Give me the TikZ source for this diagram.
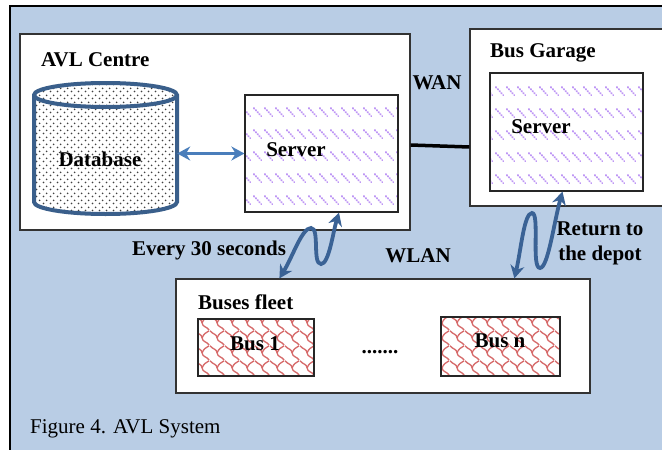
\documentclass[tikz,border=0pt]{standalone}
\usepackage{fontspec}
\setmainfont{Liberation Serif}
\usepackage{tikz}
\usetikzlibrary{arrows.meta,patterns.meta}

\definecolor{bgblue}{HTML}{B9CDE5}
\definecolor{zapblue}{HTML}{3A6295}
\definecolor{linkblue}{HTML}{4A7EBB}
\definecolor{dbline}{HTML}{3A5F8B}
\definecolor{srvviolet}{HTML}{BE96F5}
\definecolor{busred}{HTML}{D66A6A}

\tikzdeclarepattern{name=srvdash, type=uncolored,
  bottom left={(0pt,0pt)}, top right={(11pt,21.7pt)}, tile size={(11pt,21.7pt)},
  code={\draw[line width=2.1pt, line cap=round, dash pattern=on 0.5pt off 2.3pt] (1pt,15pt) -- (9pt,7pt);}}
\tikzdeclarepattern{name=dbdots, type=uncolored,
  bottom left={(0pt,0pt)}, top right={(7pt,7pt)}, tile size={(7pt,7pt)},
  code={\fill (1.75pt,1.75pt) circle (1.05pt); \fill (5.25pt,5.25pt) circle (1.05pt);}}
\tikzdeclarepattern{name=shingle, type=uncolored,
  bottom left={(0pt,0pt)}, top right={(15pt,15pt)}, tile size={(15pt,15pt)},
  code={\draw[line width=1.4pt] (0pt,15pt) .. controls (3pt,11pt) and (7pt,12pt) .. (7.5pt,7.5pt)
          .. controls (8pt,3pt) and (12pt,4pt) .. (15pt,0pt);
        \draw[line width=1.4pt] (7.5pt,7.5pt) .. controls (9pt,12pt) and (12pt,13pt) .. (15pt,15pt);}}

\tikzset{
  txt/.style={font=\fontsize{21}{25}\selectfont\bfseries, inner sep=0pt},
  panel/.style={draw=black!80, fill=white, line width=1.2pt},
  server/.style={draw=black!85, line width=1.2pt, pattern={srvdash}, pattern color=srvviolet,
    minimum width=153pt, minimum height=117pt},
  busbox/.style={draw=black!85, line width=1.2pt, pattern={shingle}, pattern color=busred},
  zap/.style={draw=zapblue, line width=3.8pt, <->},
}

\begin{document}
\begin{tikzpicture}[x=1pt, y=-1pt, >={Stealth[length=13pt,width=14pt]}]
\useasboundingbox (0,0) rectangle (662,450);
\fill[white] (0,0) rectangle (662,450);
\draw[fill=bgblue, line width=1.2pt] (10,6) rectangle (680,470);

\node[panel, minimum width=390pt, minimum height=196pt] (avl) at (215,132) {};
\node[panel, minimum width=210pt, minimum height=177pt] (garage) at (575,117.5) {};
\node[panel, minimum width=414pt, minimum height=114pt] (fleet) at (383,336) {};

% database drum
\node[minimum width=143pt, minimum height=131pt, inner sep=0pt] (db) at (105.5,148.5) {};
\filldraw[draw=dbline, line width=4pt, pattern={dbdots}, pattern color=black!75]
  (34,95) -- (34,202) arc[start angle=180, end angle=0, x radius=71.5, y radius=12]
  -- (177,95) arc[start angle=0, end angle=-180, x radius=71.5, y radius=12] -- cycle;
\draw[dbline, line width=4pt] (34,95) arc[start angle=180, end angle=0, x radius=71.5, y radius=12];

\node[server] (srvA) at (321.5,153.5) {};
\node[server, minimum height=118pt] (srvB) at (566.5,132) {};
\node[busbox, minimum width=116pt, minimum height=57pt] (bus1) at (256,347.5) {};
\node[busbox, minimum width=119pt, minimum height=59pt] (busn) at (500.5,346.5) {};

\node[txt, anchor=west] (avlname) at (41,60) {AVL Centre};
\node[txt, anchor=west] (garagename) at (490,53) {Bus Garage};
\node[txt, anchor=west] (fleetname) at (198,302) {Buses fleet};
\node[txt] (dbname) at (100,159) {Database};
\node[txt] (srvAname) at (296,150) {Server};
\node[txt] (srvBname) at (541,127) {Server};
\node[txt] (bus1name) at (255,344) {Bus 1};
\node[txt] (busnname) at (500,341) {Bus n};
\node[txt] (more) at (380,352) {.......};
\node[txt] (wan) at (437,83) {WAN};
\node[txt] (wlan) at (418,256) {WLAN};
\node[txt] (every) at (209,250) {Every 30 seconds};
\node[txt, align=center] (depot) at (600,243) {Return to\\the depot};
\node[font=\fontsize{21}{25}\selectfont, inner sep=0pt, anchor=west] (caption) at (30,429) {Figure 4. AVL System};

\draw[linkblue, line width=3pt, <->] (srvA.west -| db.east) -- (srvA.west);
\draw[line width=3.5pt] ([yshift=-13pt]avl.east) -- ([yshift=-29.5pt]garage.west);

\draw[zap] ([xshift=104pt]fleet.north west) .. controls (293,256) and (302,228) .. (311,228)
  .. controls (320,228) and (312,264) .. (321,264) .. controls (329,264) and (333,232) .. ([xshift=17.5pt]srvA.south);
\draw[zap] ([xshift=339pt]fleet.north west) .. controls (521,250) and (524,213) .. (532,213)
  .. controls (540,213) and (531,268) .. (540,268) .. controls (548,268) and (554,222) .. ([xshift=-4pt]srvB.south);
\end{tikzpicture}
\end{document}
